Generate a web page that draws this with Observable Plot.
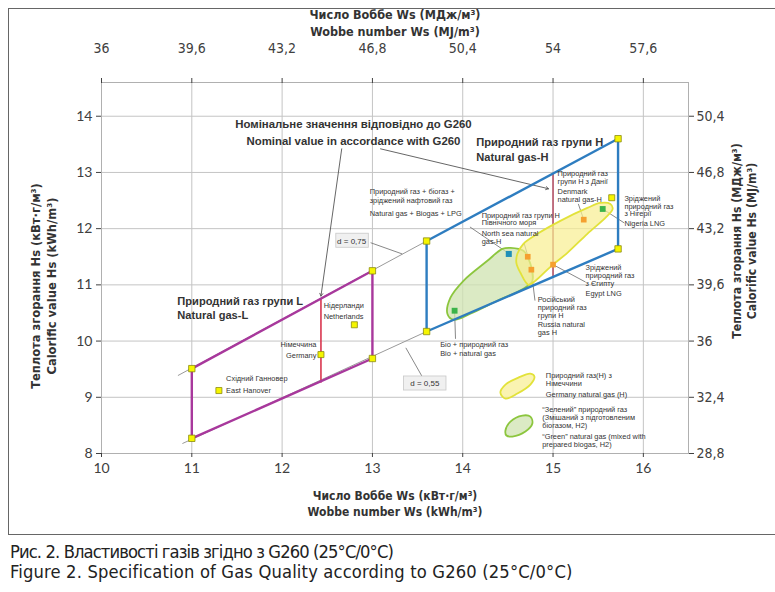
<!DOCTYPE html>
<html><head><meta charset="utf-8">
<script src="https://cdn.jsdelivr.net/npm/d3@7"></script>
<script src="https://cdn.jsdelivr.net/npm/@observablehq/plot@0.6"></script>
<style>
body{margin:0;background:#fff;}
#wrap{position:relative;width:775px;height:592px;overflow:hidden;}
#box{position:absolute;left:8px;top:8px;width:780px;height:527px;border:1.5px solid #666;box-sizing:border-box;}
#cap{position:absolute;left:10px;top:542px;font-family:"DejaVu Sans Condensed",sans-serif;font-size:18.2px;color:#222;line-height:20px;white-space:nowrap;}
#cap1{letter-spacing:-0.88px;}
#cap2{letter-spacing:0.16px;}
</style></head>
<body><div id="wrap"><div id="box"></div><div id="chart"></div>
<div id="cap"><div id="cap1">Рис. 2. Властивості газів згідно з G260 (25°C/0°C)</div><div id="cap2">Figure 2. Specification of Gas Quality according to G260 (25°C/0°C)</div></div></div>
<script>
// ticks
const xTicks = [10, 11, 12, 13, 14, 15, 16];
const topTickLabels = ["36", "39,6", "43,2", "46,8", "50,4", "54", "57,6"];
const yTicks = [8, 9, 10, 11, 12, 13, 14];
const rightTickLabels = ["28,8", "32,4", "36", "39,6", "43,2", "46,8", "50,4"];

// gas groups (Wobbe kWh/m3, Hs kWh/m3)
const groupL = [[11, 9.51], [13, 11.25], [13, 9.69], [11, 8.27], [11, 9.51]];
const groupH = [[13.6, 11.78], [15.72, 13.6], [15.72, 11.64], [13.6, 10.17], [13.6, 11.78]];
const lineD075 = [[10.85, 9.39], [13.6, 11.78]];
const lineD055 = [[10.9, 8.18], [13.6, 10.17]];
const nominalL = [[12.43, 9.27], [12.43, 10.75]];
const nominalH = [[15.0, 11.14], [15.0, 12.98]];

// regions
const germanyH = [[14.605,11.552],[14.672,11.730],[14.827,11.908],[15.081,12.139],[15.380,12.369],[15.524,12.458],[15.635,12.440],[15.660,12.352],[15.590,12.210],[15.380,11.908],[15.159,11.570],[14.971,11.321],[14.805,11.073],[14.727,11.002],[14.639,11.215],[14.594,11.393]];
const greenGas = [[14.528,11.659],[14.672,11.606],[14.749,11.375],[14.771,11.073],[14.672,10.931],[14.384,10.718],[14.085,10.487],[13.897,10.380],[13.830,10.487],[13.864,10.771],[14.008,11.073],[14.273,11.428],[14.439,11.641]];
const legendYellow = [[14.417,9.083],[14.473,9.226],[14.616,9.350],[14.749,9.421],[14.794,9.368],[14.749,9.226],[14.605,9.066],[14.473,8.977]];
const legendGreen = [[14.473,8.409],[14.528,8.568],[14.661,8.675],[14.749,8.657],[14.771,8.533],[14.694,8.391],[14.550,8.302],[14.484,8.320]];

// gas samples
const cornerPts = [...groupL.slice(0, 4), ...groupH.slice(0, 4)];
const yellowPts = [[12.43, 9.76], [12.80, 10.29], [11.30, 9.12], [15.65, 12.55]];
const orangePts = [[14.72, 11.50], [14.76, 11.27], [15.0, 11.36], [15.34, 12.16]];
const bluePts = [[14.51, 11.55]];
const greenPts = [[13.91, 10.54], [15.55, 12.35]];

// leaders [x1,y1,x2,y2]
const leaders = [
  [12.98, 11.75, 13.33, 11.55], [13.37, 9.88, 13.55, 9.37],
  [14.08, 12.03, 14.48, 11.59], [14.68, 11.74, 14.72, 11.52],
  [14.76, 11.25, 14.80, 10.72], [15.0, 11.36, 15.36, 11.05],
  [15.28, 12.44, 15.34, 12.16], [15.55, 12.35, 15.79, 12.10],
  [13.91, 10.54, 13.92, 10.04]
];
const nominalArrows = [[12.66, 13.42, 12.43, 10.80], [13.09, 13.42, 14.95, 12.71]];

// labels
const boldLabels = [
  ["Природний газ групи L", 10.84, 10.70], ["Natural gas-L", 10.84, 10.45],
  ["Природний газ групи Н", 14.15, 13.54], ["Natural gas-H", 14.15, 13.27]
];
const nominalLabels = [
  ["Номінальне значення відповідно до G260", 12.79, 13.86],
  ["Nominal value in accordance with G260", 12.79, 13.56]
];
const smallLabels = [
  ["Нідерланди", 12.46, 10.63], ["Netherlands", 12.46, 10.43],
  ["Східний Ганновер", 11.38, 9.34], ["East Hanover", 11.38, 9.12],
  ["Природний газ + біогаз +", 12.97, 12.65], ["зріджений нафтовий газ", 12.97, 12.50], ["Natural gas + Biogas + LPG", 12.97, 12.26],
  ["Природний газ", 15.05, 12.98], ["групи Н з Данії", 15.05, 12.84], ["Denmark", 15.05, 12.65], ["natural gas-H", 15.05, 12.51],
  ["Зріджений", 15.79, 12.54], ["природний газ", 15.79, 12.40], ["з Нігерії", 15.79, 12.26], ["Nigeria LNG", 15.79, 12.09],
  ["Зріджений", 15.36, 11.31], ["природний газ", 15.36, 11.17], ["з Єгипту", 15.36, 11.03], ["Egypt LNG", 15.36, 10.84],
  ["Природний газ групи Н", 14.21, 12.24], ["Північного моря", 14.21, 12.10], ["North sea natural", 14.21, 11.91], ["gas-H", 14.21, 11.77],
  ["Російський", 14.83, 10.73], ["природний газ", 14.83, 10.59], ["групи Н", 14.83, 10.45], ["Russia natural", 14.83, 10.29], ["gas H", 14.83, 10.15],
  ["Біо + природний газ", 13.75, 9.94], ["Bio + natural gas", 13.75, 9.78],
  ["Природний газ(Н) з", 14.92, 9.38], ["Німеччини", 14.92, 9.24], ["Germany natural gas (H)", 14.92, 9.05],
  ["“Зелений” природний газ", 14.88, 8.78], ["(Змішаний з підготовленим", 14.88, 8.64], ["біогазом, Н2)", 14.88, 8.50],
  ["“Green” natural gas (mixed with", 14.88, 8.30], ["prepared biogas, H2)", 14.88, 8.16]
];
const endLabels = [["Німеччина", 12.38, 9.94], ["Germany", 12.38, 9.74]];
const dBoxes = [["d = 0,75", 12.77, 11.78, 12.60, 12.96, 11.66, 11.91], ["d = 0,55", 13.58, 9.24, 13.35, 13.82, 9.12, 9.37]];

const sans = "'Liberation Sans', Arial, sans-serif";
const narrow = "'DejaVu Sans Condensed', sans-serif";
const lato = "Lato, 'Open Sans', sans-serif";
const P = d => d[0], Q = d => d[1];
const axisTitle = {fontFamily: narrow, fontWeight: "bold", fill: "#333"};

const chart = Plot.plot({
  width: 775, height: 530,
  marginLeft: 101, marginRight: 87, marginTop: 82, marginBottom: 77,
  x: {domain: [10, 16.5], axis: null},
  y: {domain: [8, 14.6], axis: null},
  style: {fontFamily: sans, background: "transparent"},
  marks: [
    Plot.gridX(xTicks, {stroke: "#c4c4c4", strokeOpacity: 1}),
    Plot.gridY(yTicks, {stroke: "#c4c4c4", strokeOpacity: 1}),
    Plot.frame({stroke: "#b0b0b0"}),
    Plot.axisX(xTicks, {anchor: "bottom", tickSize: 4, tickPadding: 6, fontSize: 14, fontFamily: lato, color: "#404040", label: null, tickFormat: d => String(d)}),
    Plot.axisX(xTicks, {anchor: "top", tickSize: 5, tickPadding: 25, fontSize: 14, fontFamily: narrow, color: "#404040", label: null, tickFormat: d => topTickLabels[xTicks.indexOf(d)]}),
    Plot.axisY(yTicks, {anchor: "left", tickSize: 5, tickPadding: 4, fontSize: 14, fontFamily: lato, color: "#404040", label: null, tickFormat: d => String(d)}),
    Plot.axisY(yTicks, {anchor: "right", tickSize: 5, tickPadding: 3, fontSize: 14, fontFamily: narrow, color: "#404040", label: null, tickFormat: d => rightTickLabels[yTicks.indexOf(d)]}),
    // axis titles
    Plot.text(["Число Воббе Ws (МДж/м³)"], {frameAnchor: "top", dy: -72, fontSize: 12.5, ...axisTitle}),
    Plot.text(["Wobbe number Ws (MJ/m³)"], {frameAnchor: "top", dy: -55, fontSize: 12.5, ...axisTitle}),
    Plot.text(["Число Воббе Ws (кВт·г/м³)"], {frameAnchor: "bottom", dy: 46, fontSize: 12, ...axisTitle}),
    Plot.text(["Wobbe number Ws (kWh/m³)"], {frameAnchor: "bottom", dy: 62, fontSize: 12, ...axisTitle}),
    Plot.text(["Теплота згорання Hs (кВт·г/м³)"], {frameAnchor: "left", y: () => 10.98, textAnchor: "middle", dx: -66, rotate: -90, fontSize: 12.8, ...axisTitle}),
    Plot.text(["Calorific value Hs (kWh/m³)"], {frameAnchor: "left", y: () => 10.98, textAnchor: "middle", dx: -50, rotate: -90, fontSize: 12.8, ...axisTitle}),
    Plot.text(["Теплота згорання Hs (МДж/м³)"], {frameAnchor: "right", y: () => 11.78, textAnchor: "middle", dx: 49, rotate: -90, fontSize: 12.2, ...axisTitle}),
    Plot.text(["Calorific value Hs (MJ/m³)"], {frameAnchor: "right", y: () => 11.78, textAnchor: "middle", dx: 64, rotate: -90, fontSize: 12.2, ...axisTitle}),
    // reference lines
    Plot.line(lineD075, {x: P, y: Q, stroke: "#9a9a9a", strokeWidth: 1}),
    Plot.line(lineD055, {x: P, y: Q, stroke: "#9a9a9a", strokeWidth: 1}),
    Plot.link(leaders, {x1: d => d[0], y1: d => d[1], x2: d => d[2], y2: d => d[3], stroke: "#6a6a6a", strokeWidth: 0.8}),
    Plot.arrow(nominalArrows, {x1: d => d[0], y1: d => d[1], x2: d => d[2], y2: d => d[3], stroke: "#555", strokeWidth: 0.9, headLength: 5, bend: false}),
    Plot.line(nominalL, {x: P, y: Q, stroke: "#d9364f", strokeWidth: 1.6}),
    Plot.line(nominalH, {x: P, y: Q, stroke: "#b8556a", strokeWidth: 1.6}),
    // regions
    Plot.line(greenGas, {x: P, y: Q, curve: "catmull-rom-closed", fill: "#cfe3b0", fillOpacity: 0.75, stroke: "#8cc63e", strokeWidth: 1.8}),
    Plot.line(germanyH, {x: P, y: Q, curve: "catmull-rom-closed", fill: "#f8ee90", fillOpacity: 0.7, stroke: "#e2e23a", strokeWidth: 1.8}),
    Plot.line(legendYellow, {x: P, y: Q, curve: "catmull-rom-closed", fill: "#f8ee90", fillOpacity: 0.7, stroke: "#e2e23a", strokeWidth: 1.8}),
    Plot.line(legendGreen, {x: P, y: Q, curve: "catmull-rom-closed", fill: "#cfe3b0", fillOpacity: 0.75, stroke: "#8cc63e", strokeWidth: 1.8}),
    // groups
    Plot.line(groupL, {x: P, y: Q, stroke: "#a8389c", strokeWidth: 2.4}),
    Plot.line(groupH, {x: P, y: Q, stroke: "#2e7dc0", strokeWidth: 2.4}),
    // points
    Plot.dot(cornerPts, {x: P, y: Q, symbol: "square", r: 3.6, fill: "#f5f500", stroke: "#8c8c10", strokeWidth: 0.8}),
    Plot.dot(yellowPts, {x: P, y: Q, symbol: "square", r: 3.4, fill: "#f5f500", stroke: "#8c8c10", strokeWidth: 0.8}),
    Plot.dot(orangePts, {x: P, y: Q, symbol: "square", r: 3.2, fill: "#f5a030", stroke: "none"}),
    Plot.dot(bluePts, {x: P, y: Q, symbol: "square", r: 3.4, fill: "#1f8fb8", stroke: "none"}),
    Plot.dot(greenPts, {x: P, y: Q, symbol: "square", r: 3.3, fill: "#3cb44a", stroke: "none"}),
    // boxes
    Plot.rect(dBoxes, {x1: d => d[3], x2: d => d[4], y1: d => d[5], y2: d => d[6], fill: "#f0f0f0", stroke: "#c8c8c8", strokeWidth: 0.8}),
    Plot.text(dBoxes, {x: d => d[1], y: d => d[2], text: d => d[0], fontSize: 8, fill: "#333", fontFamily: sans}),
    // labels
    Plot.text(boldLabels, {x: d => d[1], y: d => d[2], text: d => d[0], textAnchor: "start", fontSize: 11.1, fontWeight: "bold", fill: "#333"}),
    Plot.text(nominalLabels, {x: d => d[1], y: d => d[2], text: d => d[0], fontSize: 11.4, fontWeight: "bold", fill: "#333"}),
    Plot.text(smallLabels, {x: d => d[1], y: d => d[2], text: d => d[0], textAnchor: "start", fontSize: 7.4, fill: "#333"}),
    Plot.text(endLabels, {x: d => d[1], y: d => d[2], text: d => d[0], textAnchor: "end", fontSize: 7.4, fill: "#333"})
  ]
});
document.getElementById("chart").appendChild(chart);
</script></body></html>
